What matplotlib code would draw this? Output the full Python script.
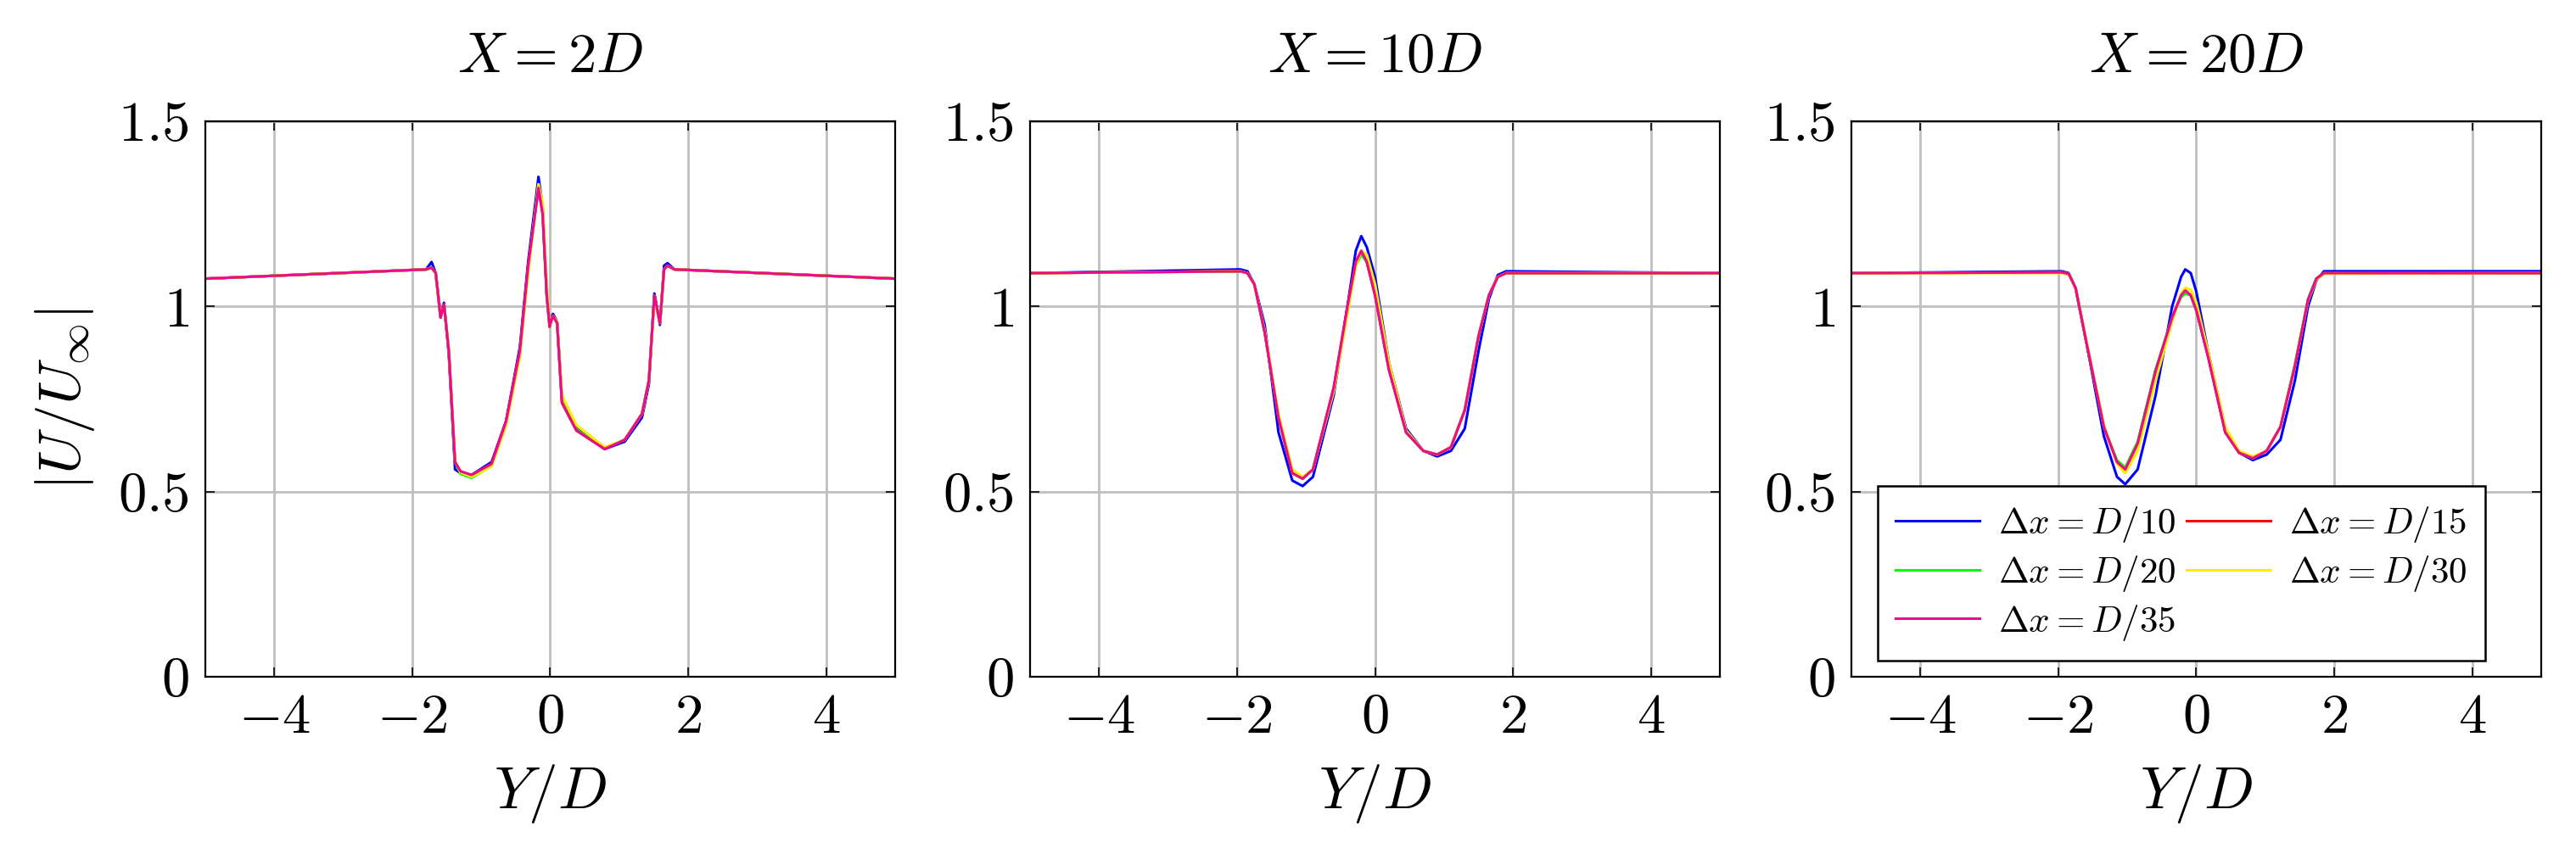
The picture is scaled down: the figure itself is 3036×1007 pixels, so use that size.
import matplotlib
matplotlib.use("Agg")
import matplotlib.pyplot as plt

plt.rcParams['mathtext.fontset'] = 'cm'
plt.rcParams['font.family'] = 'serif'
plt.rcParams['font.serif'] = ['cmr10']
plt.rcParams['axes.formatter.use_mathtext'] = True
plt.rcParams['axes.unicode_minus'] = True

titles = ["$X = 2D$", "$X = 10D$", "$X = 20D$"]
labels = [r"$\Delta x = D/10$", r"$\Delta x = D/15$", r"$\Delta x = D/20$",
          r"$\Delta x = D/30$", r"$\Delta x = D/35$"]
colors = ["#0000ff", "#ff0000", "#00ff00", "#ffee00", "#ee0a8a"]

# Panel 1: X = 2D
Y1 = [-5, -1.8, -1.72, -1.66, -1.59, -1.54, -1.47, -1.38, -1.3, -1.14, -0.85, -0.64, -0.44, -0.32,
      -0.17, -0.11, -0.05, -0.01, 0.04, 0.10, 0.17, 0.38, 0.79, 1.08, 1.33, 1.43, 1.51, 1.59, 1.65, 1.70, 1.8, 5]
P1_d10 = [1.075, 1.10, 1.12, 1.09, 0.98, 1.01, 0.87, 0.56, 0.55, 0.545, 0.58, 0.69, 0.89, 1.12,
          1.35, 1.27, 1.03, 0.96, 0.98, 0.96, 0.75, 0.67, 0.615, 0.635, 0.70, 0.79, 1.035, 0.95, 1.11, 1.117, 1.10, 1.075]
P1_d15 = [1.075, 1.10, 1.105, 1.09, 0.97, 1.005, 0.88, 0.58, 0.553, 0.543, 0.575, 0.69, 0.88, 1.11,
          1.32, 1.25, 1.03, 0.945, 0.975, 0.955, 0.74, 0.665, 0.615, 0.64, 0.71, 0.80, 1.03, 0.955, 1.10, 1.11, 1.10, 1.075]
P1_d20 = [1.075, 1.10, 1.105, 1.09, 0.97, 1.005, 0.88, 0.58, 0.548, 0.537, 0.57, 0.685, 0.875, 1.10,
          1.33, 1.26, 1.03, 0.95, 0.975, 0.955, 0.745, 0.668, 0.617, 0.64, 0.71, 0.80, 1.03, 0.955, 1.10, 1.11, 1.10, 1.075]
P1_d30 = [1.075, 1.10, 1.105, 1.09, 0.975, 1.005, 0.885, 0.585, 0.552, 0.54, 0.568, 0.678, 0.865, 1.09,
          1.33, 1.28, 1.06, 0.96, 0.975, 0.96, 0.76, 0.68, 0.62, 0.64, 0.71, 0.80, 1.02, 0.955, 1.10, 1.11, 1.10, 1.075]
P1_d35 = [1.075, 1.10, 1.105, 1.09, 0.97, 1.006, 0.88, 0.58, 0.555, 0.545, 0.575, 0.69, 0.88, 1.11,
          1.32, 1.25, 1.03, 0.95, 0.975, 0.955, 0.74, 0.665, 0.615, 0.64, 0.71, 0.80, 1.03, 0.955, 1.10, 1.11, 1.10, 1.075]

# Panel 2: X = 10D
Y2 = [-5, -1.95, -1.85, -1.75, -1.6, -1.4, -1.2, -1.05, -0.9, -0.6, -0.4, -0.28, -0.2, -0.12, 0.0, 0.2, 0.45,
      0.7, 0.9, 1.1, 1.3, 1.5, 1.65, 1.78, 1.9, 5]
P2_d10 = [1.09, 1.10, 1.095, 1.06, 0.95, 0.66, 0.53, 0.515, 0.54, 0.76, 1.00, 1.15, 1.19, 1.16, 1.08, 0.85, 0.67,
          0.61, 0.595, 0.61, 0.67, 0.88, 1.02, 1.085, 1.095, 1.09]
P2_d15 = [1.09, 1.095, 1.09, 1.06, 0.93, 0.70, 0.55, 0.535, 0.56, 0.78, 1.00, 1.12, 1.15, 1.12, 1.03, 0.83, 0.66,
          0.61, 0.60, 0.62, 0.72, 0.92, 1.03, 1.08, 1.09, 1.09]
P2_d20 = [1.09, 1.095, 1.09, 1.06, 0.93, 0.70, 0.55, 0.535, 0.56, 0.775, 0.99, 1.11, 1.14, 1.12, 1.035, 0.835, 0.66,
          0.61, 0.60, 0.62, 0.72, 0.92, 1.03, 1.08, 1.09, 1.09]
P2_d30 = [1.09, 1.095, 1.09, 1.06, 0.935, 0.71, 0.56, 0.54, 0.56, 0.77, 0.98, 1.11, 1.15, 1.14, 1.06, 0.85, 0.665,
          0.61, 0.60, 0.62, 0.72, 0.92, 1.03, 1.08, 1.09, 1.09]
P2_d35 = [1.09, 1.095, 1.09, 1.06, 0.93, 0.70, 0.55, 0.535, 0.56, 0.78, 1.00, 1.12, 1.15, 1.12, 1.03, 0.83, 0.66,
          0.61, 0.60, 0.62, 0.72, 0.92, 1.03, 1.08, 1.09, 1.09]

# Panel 3: X = 20D
Y3 = [-5, -1.95, -1.85, -1.75, -1.59, -1.34, -1.15, -1.03, -0.85, -0.59, -0.35, -0.22, -0.16, -0.08, 0.0, 0.17,
      0.42, 0.62, 0.82, 1.02, 1.22, 1.43, 1.62, 1.74, 1.85, 5]
P3_d10 = [1.09, 1.095, 1.09, 1.05, 0.90, 0.65, 0.54, 0.52, 0.56, 0.76, 1.00, 1.08, 1.10, 1.09, 1.04, 0.88,
          0.67, 0.605, 0.585, 0.60, 0.64, 0.80, 1.00, 1.07, 1.095, 1.095]
P3_d15 = [1.09, 1.092, 1.088, 1.05, 0.90, 0.675, 0.58, 0.56, 0.63, 0.826, 0.97, 1.03, 1.043, 1.03, 0.99, 0.865,
          0.66, 0.605, 0.59, 0.61, 0.675, 0.84, 1.018, 1.075, 1.09, 1.09]
P3_d20 = [1.09, 1.092, 1.088, 1.05, 0.90, 0.675, 0.585, 0.565, 0.635, 0.83, 0.97, 1.025, 1.035, 1.03, 0.99, 0.87,
          0.665, 0.605, 0.59, 0.61, 0.675, 0.845, 1.02, 1.075, 1.09, 1.09]
P3_d30 = [1.09, 1.09, 1.086, 1.05, 0.905, 0.68, 0.575, 0.55, 0.61, 0.80, 0.96, 1.035, 1.05, 1.045, 1.01, 0.88,
          0.675, 0.61, 0.595, 0.61, 0.675, 0.84, 1.015, 1.072, 1.088, 1.09]
P3_d35 = [1.09, 1.092, 1.088, 1.05, 0.90, 0.675, 0.58, 0.56, 0.63, 0.826, 0.97, 1.03, 1.043, 1.03, 0.99, 0.865,
          0.66, 0.605, 0.59, 0.61, 0.675, 0.84, 1.018, 1.075, 1.09, 1.09]

panels = [
    (Y1, [P1_d10, P1_d15, P1_d20, P1_d30, P1_d35]),
    (Y2, [P2_d10, P2_d15, P2_d20, P2_d30, P2_d35]),
    (Y3, [P3_d10, P3_d15, P3_d20, P3_d30, P3_d35]),
]

fig = plt.figure(figsize=(30.36, 10.07), dpi=100)
lefts = [0.0797, 0.3999, 0.7187]
for i, (Y, series) in enumerate(panels):
    ax = fig.add_axes([lefts[i], 0.2075, 0.2678, 0.6505])
    handles = []
    for vals, c, lab in zip(series, colors, labels):
        h, = ax.plot(Y, vals, color=c, lw=2.2, label=lab)
        handles.append(h)
    ax.set_xlim(-5, 5)
    ax.set_ylim(0, 1.5)
    ax.set_xticks([-4, -2, 0, 2, 4])
    ax.set_yticks([0, 0.5, 1, 1.5])
    ax.set_yticklabels(["$0$", "$0.5$", "$1$", "$1.5$"])
    ax.set_xticklabels(["$-4$", "$-2$", "$0$", "$2$", "$4$"])
    ax.grid(True, color="#bfbfbf", lw=2)
    ax.set_axisbelow(True)
    ax.tick_params(direction="in", labelsize=48, length=8, width=1.2, pad=14, top=True, right=True)
    for s in ax.spines.values():
        s.set_linewidth(1.6)
    ax.set_title(titles[i], fontsize=48, pad=42)
    ax.set_xlabel("$Y/D$", fontsize=50, labelpad=16)
    if i == 0:
        ax.set_ylabel(r"$|U/U_\infty|$", fontsize=50, labelpad=18)
    if i == 2:
        order = [0, 2, 4, 1, 3]
        leg = ax.legend([handles[k] for k in order], [labels[k] for k in order],
                        loc="lower left", bbox_to_anchor=(0.038, 0.029), ncol=2, fontsize=31,
                        frameon=True, fancybox=False, edgecolor="black", framealpha=1,
                        borderaxespad=0, handlelength=2.3, columnspacing=0.3, handletextpad=0.5,
                        labelspacing=0.25, borderpad=0.5)
        leg.get_frame().set_linewidth(1.8)

fig.savefig("out.png", dpi=100)
